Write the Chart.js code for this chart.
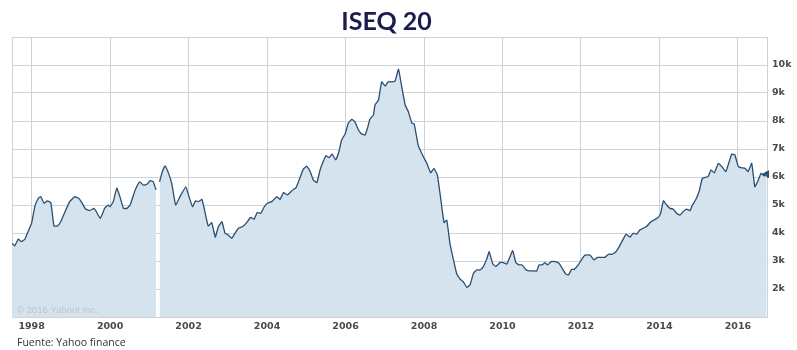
<!DOCTYPE html>
<html>
<head>
<meta charset="utf-8">
<script src="https://cdn.jsdelivr.net/npm/chart.js@4.4.1/dist/chart.umd.min.js"></script>
<style>
  html, body { margin: 0; padding: 0; background: #fff; }
  canvas { display: block; }
</style>
</head>
<body>
<canvas id="iseq" width="797" height="350"></canvas>
<script>
// ISEQ 20 closing level, decimal year -> index points
const dates = [
  1997.50, 1997.57, 1997.66, 1997.74, 1997.83, 1997.91,
  1998.00, 1998.08, 1998.17, 1998.23, 1998.32, 1998.40, 1998.49, 1998.57, 1998.66, 1998.74, 1998.85, 1998.97,
  1999.10, 1999.20, 1999.29, 1999.37, 1999.48, 1999.59, 1999.65, 1999.75, 1999.86, 1999.95,
  2000.00, 2000.08, 2000.17, 2000.25, 2000.34, 2000.43, 2000.51, 2000.64, 2000.75, 2000.85, 2000.94,
  2001.02, 2001.10, 2001.17, 2001.21, 2001.26, 2001.33, 2001.40, 2001.49, 2001.57, 2001.67, 2001.78, 2001.93,
  2002.01, 2002.10, 2002.18, 2002.25, 2002.34, 2002.42, 2002.50, 2002.59, 2002.68, 2002.76, 2002.85, 2002.93,
  2003.01, 2003.10, 2003.18, 2003.27, 2003.38, 2003.48, 2003.58, 2003.67, 2003.75, 2003.84, 2003.92,
  2004.01, 2004.12, 2004.25, 2004.33, 2004.42, 2004.52, 2004.63, 2004.74, 2004.84, 2004.92,
  2005.01, 2005.10, 2005.18, 2005.27, 2005.35, 2005.43, 2005.50, 2005.58, 2005.66, 2005.75, 2005.83, 2005.90, 2005.99,
  2006.07, 2006.16, 2006.24, 2006.33, 2006.41, 2006.50, 2006.57, 2006.62, 2006.71, 2006.75, 2006.84, 2006.92,
  2007.01, 2007.09, 2007.18, 2007.26, 2007.35, 2007.43, 2007.52, 2007.60, 2007.69, 2007.75, 2007.85, 2007.98,
  2008.07, 2008.17, 2008.25, 2008.34, 2008.43, 2008.51, 2008.58, 2008.66, 2008.75, 2008.83, 2008.92,
  2009.00, 2009.09, 2009.17, 2009.26, 2009.34, 2009.43, 2009.51, 2009.59, 2009.66, 2009.75, 2009.83, 2009.94,
  2010.02, 2010.11, 2010.19, 2010.26, 2010.34, 2010.42, 2010.50, 2010.59, 2010.68, 2010.78, 2010.87, 2010.93,
  2011.01, 2011.08, 2011.15, 2011.24, 2011.34, 2011.44, 2011.52, 2011.61, 2011.68, 2011.76, 2011.83, 2011.93,
  2012.02, 2012.10, 2012.23, 2012.33, 2012.42, 2012.53, 2012.61, 2012.70, 2012.78, 2012.87, 2012.95,
  2013.04, 2013.15, 2013.25, 2013.33, 2013.42, 2013.50, 2013.59, 2013.67, 2013.78, 2013.89, 2013.97,
  2014.03, 2014.10, 2014.18, 2014.27, 2014.35, 2014.44, 2014.52, 2014.58, 2014.69, 2014.78, 2014.84, 2014.92,
  2015.01, 2015.09, 2015.18, 2015.24, 2015.31, 2015.40, 2015.50, 2015.59, 2015.69, 2015.75, 2015.84, 2015.92,
  2016.01, 2016.09, 2016.18, 2016.26, 2016.35, 2016.43, 2016.50, 2016.59, 2016.67, 2016.73
];

const closes = [
  3630, 3540, 3780, 3690, 3780, 4050,
  4350, 4940, 5240, 5300, 5060, 5150, 5080, 4250, 4250, 4400, 4760, 5120,
  5300, 5240, 5060, 4860, 4800, 4880, 4760, 4520, 4880, 5000,
  4940, 5120, 5600, 5300, 4880, 4880, 5000, 5540, 5830, 5710, 5740,
  5870, 5830, 5540, null, 5830, 6190, 6400, 6130, 5770, 5000, 5300, 5650,
  5300, 4940, 5150, 5120, 5200, 4730, 4250, 4370, 3850, 4230, 4400, 3990,
  3930, 3810, 3990, 4170, 4230, 4370, 4560, 4490, 4730, 4700, 4920,
  5060, 5120, 5300, 5200, 5440, 5360, 5510, 5620, 5980, 6270,
  6390, 6190, 5890, 5800, 6250, 6550, 6760, 6690, 6820, 6610, 6900, 7320, 7540,
  7920, 8060, 7970, 7680, 7540, 7500, 7800, 8060, 8210, 8570, 8750, 9400,
  9250, 9400, 9400, 9420, 9850, 9230, 8570, 8330, 7920, 7890, 7140, 6730,
  6490, 6150, 6310, 6070, 5180, 4370, 4460, 3630, 3040, 2560, 2350,
  2260, 2060, 2140, 2560, 2680, 2680, 2800, 3040, 3330, 2900, 2800, 2950,
  2940, 2890, 3150, 3370, 2940, 2860, 2860, 2700, 2650, 2650, 2640, 2860,
  2860, 2940, 2860, 2980, 2980, 2920, 2740, 2540, 2500, 2700, 2700, 2860,
  3060, 3210, 3210, 3040, 3130, 3130, 3130, 3240, 3240, 3300, 3450,
  3690, 3960, 3850, 3990, 3960, 4110, 4170, 4230, 4400, 4490, 4560,
  4700, 5150, 5000, 4880, 4850, 4700, 4640, 4730, 4850, 4800, 5000, 5180,
  5480, 5950, 5990, 6010, 6250, 6150, 6490, 6370, 6190, 6430, 6820, 6790,
  6370, 6330, 6310, 6190, 6490, 5650, 5830, 6130, 6040, 6100
];

const yearTicks = [1998, 2000, 2002, 2004, 2006, 2008, 2010, 2012, 2014, 2016];
const levelTicks = [1000, 2000, 3000, 4000, 5000, 6000, 7000, 8000, 9000, 10000, 11000];

const xMin = 1997.5;
const xMax = 2016.74;

const series = dates.map((d, i) => ({ x: d, y: closes[i] }));
const lastPoint = series[series.length - 1];

const gridColor = '#ccd3dc';
const tickFont = { family: 'DejaVu Sans', size: 9.5, weight: 'bold' };

// title, source note and the little copyright stamp
const extraText = {
  id: 'extraText',
  afterDraw(chart) {
    const ctx = chart.ctx;
    const area = chart.chartArea;
    ctx.save();
    ctx.fillStyle = '#1c1b4f';
    ctx.font = 'bold 25px Lato';
    ctx.textAlign = 'center';
    ctx.textBaseline = 'alphabetic';
    ctx.fillText('ISEQ 20', (area.left + area.right) / 2 - 3, 30);

    ctx.textAlign = 'left';
    ctx.fillStyle = '#b9c5d1';
    ctx.font = '9.5px "Liberation Sans"';
    ctx.fillText('\u00A9 2016 Yahoo! Inc.', area.left + 5, area.bottom - 4);

    ctx.fillStyle = '#333';
    ctx.font = '10.5px "Open Sans"';
    ctx.fillText('Fuente: Yahoo finance', 17, 346);
    ctx.restore();
  }
};

new Chart(document.getElementById('iseq'), {
  type: 'line',
  data: {
    datasets: [
      {
        data: series,
        borderColor: '#2c4d70',
        borderWidth: 1.3,
        backgroundColor: '#d5e3ef',
        fill: 'start',
        tension: 0.1,
        pointRadius: 0,
        spanGaps: false
      },
      {
        data: [lastPoint],
        showLine: false,
        pointStyle: 'triangle',
        pointRotation: 270,
        pointRadius: 4,
        pointBackgroundColor: '#2c4d70',
        pointBorderColor: '#2c4d70',
        clip: false
      }
    ]
  },
  options: {
    responsive: false,
    animation: false,
    layout: { padding: { top: 37, left: 12, right: 0, bottom: 0 } },
    plugins: {
      legend: { display: false },
      title: { display: false },
      tooltip: { enabled: false }
    },
    scales: {
      x: {
        type: 'linear',
        min: xMin,
        max: xMax,
        afterBuildTicks: (scale) => {
          scale.ticks = [xMin, ...yearTicks].map(v => ({ value: v }));
        },
        afterFit: (scale) => { scale.height = 33; },
        grid: { color: gridColor, drawTicks: false },
        border: { color: gridColor },
        ticks: {
          padding: 4,
          color: '#4a4a4a',
          font: tickFont,
          maxRotation: 0,
          autoSkip: false,
          callback: (v) => yearTicks.includes(v) ? String(v) : ''
        }
      },
      y: {
        position: 'right',
        min: 1000,
        max: 11000,
        afterBuildTicks: (scale) => {
          scale.ticks = levelTicks.map(v => ({ value: v }));
        },
        afterFit: (scale) => { scale.width = 30; },
        grid: { color: gridColor, drawTicks: false },
        border: { color: gridColor },
        ticks: {
          padding: 5,
          color: '#4a4a4a',
          font: tickFont,
          callback: (v) => (v === 1000 || v === 11000) ? '' : (v / 1000) + 'k'
        }
      }
    }
  },
  plugins: [extraText]
});
</script>
</body>
</html>
